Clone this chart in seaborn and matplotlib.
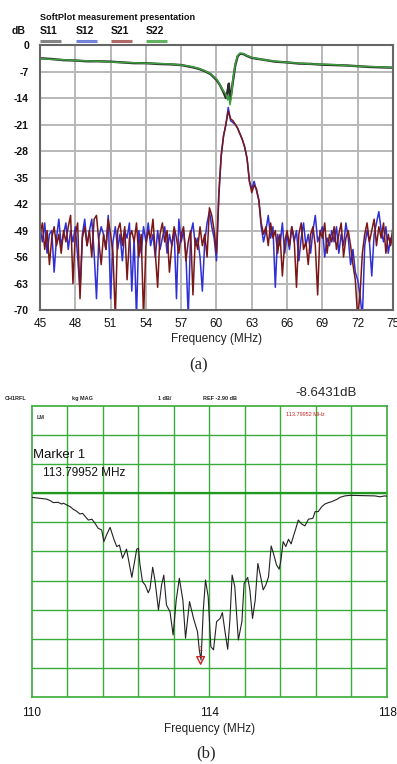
import numpy as np
import pandas as pd
import matplotlib
matplotlib.use("Agg")
import matplotlib.pyplot as plt
import seaborn as sns

# ---------------- Panel (a) data ----------------
freq_a = np.linspace(45, 75, 151)
s21 = [-50, -47, -54, -49, -58, -51, -48, -53, -50, -55,
       -49, -52, -48, -45, -63, -50, -47, -67, -51, -48,
       -53, -49, -56, -46, -45, -52, -58, -50, -54, -46,
       -50, -55, -72, -49, -47, -53, -48, -62, -51, -49,
       -52, -47, -56, -50, -72, -53, -49, -51, -46, -55,
       -64, -50, -47, -52, -49, -60, -53, -48, -51, -55,
       -50, -48, -57, -52, -49, -66, -51, -54, -48, -53,
       -50, -56, -43, -45, -49, -55, -39, -29, -24, -21,
       -17.5, -19.5, -20, -21, -22, -23.5, -25, -27, -30, -36,
       -39, -37, -38, -41, -47, -50, -48, -53, -47, -51,
       -49, -55, -50, -61, -52, -49, -53, -48, -51, -64,
       -50, -47, -54, -52, -58, -50, -48, -53, -66, -49,
       -51, -47, -55, -50, -52, -48, -54, -50, -47, -56,
       -51, -49, -53, -58, -62, -72, -66, -55, -50, -47,
       -52, -49, -46, -53, -48, -51, -47, -55, -50, -53,
       -48]
s12 = [-48, -52, -47, -55, -50, -49, -60, -51, -46, -53,
       -50, -47, -54, -49, -52, -48, -56, -65, -50, -46,
       -53, -49, -46, -55, -67, -51, -48, -50, -54, -45,
       -67, -52, -48, -54, -50, -57, -49, -51, -47, -65,
       -51, -72, -49, -55, -48, -52, -47, -53, -50, -56,
       -49, -54, -51, -48, -55, -50, -53, -49, -67, -46,
       -52, -49, -55, -72, -50, -47, -53, -51, -56, -65,
       -52, -47, -44, -48, -51, -57, -40, -29.5, -24, -21,
       -16.5, -20, -20.5, -21, -22, -23.5, -25, -27, -30, -36,
       -38, -36, -38.5, -41, -48, -52, -49, -45, -51, -48,
       -64, -50, -53, -47, -55, -50, -54, -48, -52, -49,
       -57, -51, -47, -53, -50, -55, -49, -45, -52, -50,
       -48, -56, -51, -53, -49, -52, -48, -55, -50, -53,
       -47, -51, -58, -54, -60, -62, -66, -72, -53, -49,
       -52, -61, -50, -47, -44, -49, -52, -48, -55, -51,
       -53]

freq_s = [45, 46, 47, 48, 49, 50, 51, 52, 53, 54, 55, 56, 57, 57.5, 58, 58.5,
          59, 59.5, 60, 60.3, 60.6, 60.8, 60.95, 61.05, 61.15, 61.25, 61.4,
          61.6, 61.8, 62.0, 62.3, 62.6, 63, 64, 65, 66, 67, 68, 69, 70, 71,
          72, 73, 74, 75]
s22 = [-3.6, -3.8, -3.9, -4.1, -4.2, -4.3, -4.5, -4.6, -4.7, -4.8, -4.9, -5.0,
       -5.3, -5.5, -5.8, -6.2, -6.8, -7.6, -9.0, -10.5, -12.2, -13.0, -14.5,
       -13.5, -15.8, -14.0, -9.0, -5.0, -2.8, -2.2, -2.3, -2.8, -3.3, -3.9,
       -4.3, -4.6, -4.8, -5.0, -5.1, -5.2, -5.4, -5.6, -5.7, -5.8, -6.0]
s11 = [-3.5, -3.7, -4.0, -4.1, -4.3, -4.3, -4.4, -4.6, -4.8, -4.8, -5.0, -5.1,
       -5.3, -5.6, -5.9, -6.3, -6.9, -7.7, -9.2, -10.6, -12.5, -14.0, -12.0,
       -10.2, -14.5, -13.0, -9.5, -5.3, -3.0, -2.3, -2.4, -2.9, -3.4, -3.9,
       -4.4, -4.6, -4.9, -5.0, -5.2, -5.3, -5.4, -5.6, -5.8, -5.9, -6.0]

xticks_a = [45, 48, 51, 54, 57, 60, 63, 66, 69, 72, 75]
yticks_a = [0, -7, -14, -21, -28, -35, -42, -49, -56, -63, -70]
legend_names = ["S11", "S12", "S21", "S22"]

# ---------------- Panel (b) data ----------------
freq_b = [110.0, 110.33, 110.41, 110.48, 110.59, 110.67, 110.71, 110.78, 110.86,
          110.93, 111.0, 111.08, 111.14, 111.19, 111.27, 111.35, 111.42, 111.49,
          111.57, 111.62, 111.68, 111.76, 111.85, 111.91, 111.97, 112.04, 112.13,
          112.25, 112.36, 112.40, 112.43, 112.49, 112.55, 112.62, 112.66, 112.72,
          112.77, 112.85, 112.92, 112.97, 113.03, 113.11, 113.18, 113.25, 113.32,
          113.40, 113.46, 113.55, 113.64, 113.73, 113.77, 113.81, 113.86, 113.91,
          113.97, 114.03, 114.09, 114.16, 114.24, 114.29, 114.35, 114.41, 114.46,
          114.51, 114.57, 114.65, 114.73, 114.78, 114.86, 114.91, 114.97, 115.03,
          115.09, 115.16, 115.21, 115.27, 115.33, 115.39, 115.44, 115.51, 115.57,
          115.61, 115.66, 115.72, 115.78, 115.84, 115.90, 115.94, 116.0, 116.08,
          116.15, 116.23, 116.33, 116.38, 116.45, 116.53, 116.60, 116.68, 116.75,
          116.87, 116.94, 117.05, 117.17, 117.73, 117.84, 117.95, 118.0]
trace_b = [-3.04, -3.10, -3.15, -3.22, -3.21, -3.27, -3.24, -3.30, -3.36,
           -3.45, -3.51, -3.61, -3.59, -3.68, -3.82, -3.79, -3.93, -4.10,
           -4.16, -4.56, -4.33, -4.07, -4.50, -4.73, -4.68, -5.13, -4.82,
           -5.79, -4.82, -4.79, -5.31, -5.94, -6.05, -6.32, -6.17, -5.44,
           -5.88, -6.91, -6.05, -5.71, -6.74, -6.97, -7.77, -6.57, -5.82,
           -6.57, -7.88, -6.62, -7.20, -7.66, -8.28, -8.63, -6.91, -5.88,
           -6.45, -8.17, -8.28, -7.31, -7.20, -7.00, -7.66, -8.26, -7.25,
           -5.71, -6.11, -7.94, -7.31, -6.00, -5.79, -6.22, -7.20, -6.57,
           -5.31, -5.82, -6.22, -6.05, -5.77, -4.71, -4.96, -5.36, -5.51,
           -5.19, -4.56, -4.73, -4.48, -4.64, -4.33, -4.14, -3.82, -3.96,
           -4.02, -3.79, -3.76, -3.53, -3.53, -3.36, -3.27, -3.22, -3.19,
           -3.11, -3.04, -2.99, -2.97, -2.99, -3.02, -2.99, -3.00]
marker_f = 113.79952
marker_db = -8.6431
ref_db = -2.90
xticks_b = [110, 114, 118]

# ---------------- Figure ----------------
sns.set_theme(style="white")
plt.rcParams['font.family'] = ['Liberation Sans', 'DejaVu Sans']

fig = plt.figure(figsize=(3.97, 7.64), dpi=100)

# ---- (a) ----
axa = fig.add_axes([0.1008, 0.5942, 0.889, 0.3469])
dfa = pd.DataFrame({"f": freq_a, "S12": s12, "S21": s21})
dfs = pd.DataFrame({"f": freq_s, "S11": s11, "S22": s22})
sns.lineplot(data=dfa, x="f", y="S12", ax=axa, color="#2f2fd8", lw=1.1)
sns.lineplot(data=dfa, x="f", y="S21", ax=axa, color="#7a1616", lw=1.1)
sns.lineplot(data=dfs, x="f", y="S11", ax=axa, color="#2a2a2a", lw=1.7)
sns.lineplot(data=dfs, x="f", y="S22", ax=axa, color="#3c9e3c", lw=1.1)
axa.set_xlim(45, 75)
axa.set_ylim(-70, 0)
axa.set_xticks(xticks_a)
axa.set_yticks(yticks_a)
axa.set_yticklabels([str(v) for v in yticks_a], fontweight="bold", fontsize=7.5)
axa.set_xticklabels([str(v) for v in xticks_a], fontsize=8.5)
axa.tick_params(axis="both", length=0, colors="#111111")
axa.tick_params(axis="y", pad=8)
axa.tick_params(axis="x", pad=6)
axa.grid(True, color="#b8b8b8", lw=1.4)
for sp in axa.spines.values():
    sp.set_color("#666666")
    sp.set_linewidth(1.5)
axa.set_xlabel("Frequency (MHz)", fontsize=8.5, labelpad=2, color="#222222")
axa.set_ylabel("")
axa.text(0.0, 1.105, "SoftPlot measurement presentation", transform=axa.transAxes,
         fontsize=6.6, fontweight="bold", ha="left", va="center", color="#111111")
axa.text(-0.062, 1.053, "dB", transform=axa.transAxes, fontsize=7.5,
         fontweight="bold", ha="center", va="center", color="#111111")
leg_cols = ["#858585", "#7482d8", "#b06a6a", "#62b262"]
leg_x = [0.0, 0.102, 0.201, 0.30]
for name, c, x0 in zip(legend_names, leg_cols, leg_x):
    axa.text(x0, 1.053, name, transform=axa.transAxes, fontsize=7.5,
             fontweight="bold", ha="left", va="center", color="#111111")
    axa.plot([x0, x0 + 0.06], [1.015, 1.015], transform=axa.transAxes,
             color=c, lw=2.2, clip_on=False, solid_capstyle="butt")
fig.text(0.5, 1 - 365 / 764, "(a)", fontsize=12, ha="center", va="center",
         family=["Liberation Serif", "DejaVu Serif"])

# ---- (b) ----
axb = fig.add_axes([0.0806, 0.0877, 0.8942, 0.3809])
dfb = pd.DataFrame({"f": freq_b, "dB": trace_b})
ylo, yhi = ref_db - 7, ref_db + 3
axb.set_xlim(110, 118)
axb.set_ylim(ylo, yhi)
gx = np.linspace(110, 118, 11)
gy = np.linspace(ylo, yhi, 11)
for v in gx[1:-1]:
    axb.axvline(v, color="#38ac38", lw=1.0, zorder=1)
for v in gy[1:-1]:
    axb.axhline(v, color="#38ac38", lw=1.0, zorder=1)
axb.axhline(ref_db, color="#1f9a1f", lw=1.6, zorder=1)
sns.lineplot(data=dfb, x="f", y="dB", ax=axb, color="#222222", lw=0.8, zorder=3)
axb.scatter([marker_f], [marker_db], marker="v", s=30, facecolors="none",
            edgecolors="#cc2222", linewidths=1.0, zorder=4)
axb.text(marker_f, marker_db + 0.25, "1", color="#cc2222", fontsize=5,
         ha="center", va="bottom", zorder=4)
axb.set_xticks(xticks_b)
axb.set_xticklabels([str(v) for v in xticks_b], fontsize=8.5)
axb.set_yticks([])
axb.tick_params(axis="x", length=0, pad=7, colors="#111111")
for sp in axb.spines.values():
    sp.set_color("#38ac38")
    sp.set_linewidth(1.2)
axb.set_xlabel("Frequency (MHz)", fontsize=8.5, labelpad=3, color="#222222")
axb.set_ylabel("")

axb.text(0.012, 0.96, "LM", transform=axb.transAxes, fontsize=4, fontweight="bold",
         ha="left", va="center", color="#333333")
axb.text(0.003, 0.83, "Marker 1", transform=axb.transAxes, fontsize=9.5,
         ha="left", va="center", color="#111111")
axb.text(0.03, 0.77, "113.79952 MHz", transform=axb.transAxes, fontsize=8.5,
         ha="left", va="center", color="#111111")
axb.text(0.77, 0.97, "113.79952 MHz", transform=axb.transAxes, fontsize=4,
         ha="center", va="center", color="#cc2222")

hy = 1 - 399 / 764
fig.text(5 / 397, hy, "CH1RFL", fontsize=4, fontweight="bold", ha="left", va="center")
fig.text(72 / 397, hy, "kg MAG", fontsize=4, fontweight="bold", ha="left", va="center")
fig.text(158 / 397, hy, "1 dB/", fontsize=4, fontweight="bold", ha="left", va="center")
fig.text(203 / 397, hy, "REF -2.90 dB", fontsize=4, fontweight="bold", ha="left", va="center")
fig.text(295 / 397, 1 - 393 / 764, "-8.6431dB", fontsize=9.5, ha="left", va="center")
fig.text(0.52, 1 - 753 / 764, "(b)", fontsize=12, ha="center", va="center",
         family=["Liberation Serif", "DejaVu Serif"])

fig.savefig("out.png", dpi=100)
